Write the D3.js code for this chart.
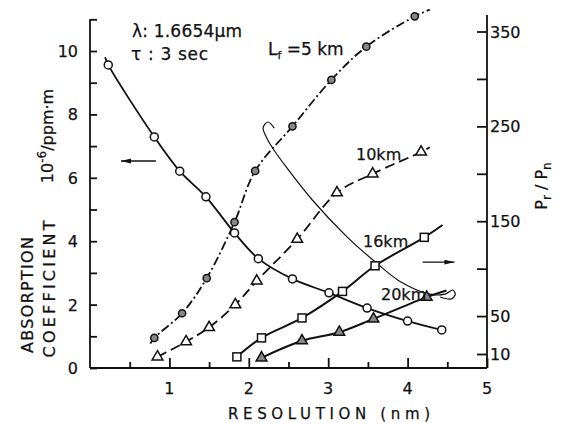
<!DOCTYPE html>
<html>
  <head>
    <meta charset="utf-8">
    <title>Absorption coefficient vs resolution</title>
    <style>
      body { margin: 0; background: #fff; }
      text { font-family: "DejaVu Sans", sans-serif; fill: #111; stroke: #111; stroke-width: 0.25px; }
      .domain, .tick line { stroke: #111; stroke-width: 1.8px; }
    </style>
    <script src="https://cdn.jsdelivr.net/npm/d3@7"></script>
  </head>
  <body>
    <script type="text/javascript">
      // absorption coefficient (left axis, 10^-6/ppm.m)
      var absX = [0.23, 0.81, 1.13, 1.46, 1.82, 2.12, 2.55, 3.01, 3.49, 4.00, 4.43];
      var absY = [9.56, 7.29, 6.21, 5.40, 4.26, 3.45, 2.81, 2.37, 1.89, 1.48, 1.20];
      var absStart = [0.19, 9.8];

      // Pr/Pn for each path length Lf (right axis)
      var km5X = [0.81, 1.16, 1.47, 1.82, 2.08, 2.55, 3.04, 3.48, 4.09];
      var km5Y = [27, 53, 90, 149, 203, 250, 299, 334, 366];
      var km5Ends = [[0.76, 21], [4.28, 373]];

      var km10X = [0.85, 1.21, 1.50, 1.83, 2.10, 2.61, 3.11, 3.56, 4.17];
      var km10Y = [7, 23, 38, 62, 87, 131, 180, 200, 223];
      var km10Ends = [null, [4.28, 228]];

      var km16X = [1.85, 2.16, 2.67, 3.18, 3.59, 4.21];
      var km16Y = [7, 27, 48, 76, 103, 133];
      var km16Ends = [null, [4.44, 146]];

      var km20X = [2.16, 2.67, 3.14, 3.57, 4.24];
      var km20Y = [6, 24, 33, 47, 70];
      var km20Ends = [null, [4.49, 77]];

      // thin bracket curve (left axis units)
      var linkX = [2.32, 2.24, 2.18, 2.22, 2.30, 2.48, 2.80, 3.24, 3.61, 3.90, 4.28, 4.47, 4.57, 4.60, 4.55, 4.41];
      var linkY = [7.57, 7.76, 7.57, 7.29, 6.94, 6.31, 5.30, 4.13, 3.31, 2.74, 2.33, 2.33, 2.46, 2.33, 2.18, 2.24];

      var xTicks = [0.5, 1, 1.5, 2, 2.5, 3, 3.5, 4, 4.5, 5];
      var xLabels = [1, 2, 3, 4, 5];
      var leftTicks = d3.range(0, 12);
      var leftLabels = [0, 2, 4, 6, 8, 10];
      var rightTicks = [10, 50, 100, 150, 200, 250, 300, 350];
      var rightLabels = [10, 50, 150, 250, 350];

      var width = 565, height = 424;
      var svg = d3.select("body").append("svg")
        .attr("width", width).attr("height", height);

      var x = d3.scaleLinear().domain([0, 5]).range([90, 487]);
      var yL = d3.scaleLinear().domain([0, 11]).range([368, 19.3]);
      var yR = d3.scaleLinear().domain([0, 350]).range([363.5, 31.5]);

      var defs = svg.append("defs");
      defs.append("marker").attr("id", "arrow")
        .attr("viewBox", "0 0 10 6").attr("refX", 10).attr("refY", 3)
        .attr("markerWidth", 10).attr("markerHeight", 6)
        .attr("markerUnits", "userSpaceOnUse").attr("orient", "auto")
        .append("path").attr("d", "M0,0.6L10,3L0,5.4z").attr("fill", "#111");

      // axes
      var xAxis = d3.axisBottom(x).tickValues(xTicks)
        .tickSize(-6).tickSizeOuter(0).tickFormat("");
      var gx = svg.append("g").attr("transform", "translate(0,368)").call(xAxis);
      gx.selectAll(".tick line").attr("y2", function(d) { return d % 1 === 0 ? -10 : -6; });
      gx.select(".domain").attr("d", "M" + x(0) + ",0H" + x(5));
      svg.selectAll(".xlab").data(xLabels).enter().append("text")
        .attr("x", function(d) { return x(d); }).attr("y", 394)
        .attr("text-anchor", "middle").attr("font-size", 16).text(function(d) { return d; });

      var gl = svg.append("g").attr("transform", "translate(" + x(0) + ",0)")
        .call(d3.axisLeft(yL).tickValues(leftTicks).tickSize(-7).tickSizeOuter(0).tickFormat(""));
      gl.select(".domain").attr("d", "M0," + yL(0) + "V" + yL(11));
      svg.selectAll(".ylab").data(leftLabels).enter().append("text")
        .attr("x", 78).attr("y", function(d) { return yL(d) + 6; })
        .attr("text-anchor", "end").attr("font-size", 16).text(function(d) { return d; });

      var gr = svg.append("g").attr("transform", "translate(" + x(5) + ",0)")
        .call(d3.axisRight(yR).tickValues(rightTicks).tickSize(-10).tickSizeOuter(0).tickFormat(""));
      gr.select(".domain").attr("d", "M0,368V15");
      svg.selectAll(".rlab").data(rightLabels).enter().append("text")
        .attr("x", 490).attr("y", function(d) { return yR(d) + 6; })
        .attr("font-size", 16).text(function(d) { return d; });

      // axis titles
      svg.append("text").attr("x", 329).attr("y", 419).attr("text-anchor", "middle")
        .attr("font-size", 15).attr("textLength", 202).attr("lengthAdjust", "spacing")
        .text("RESOLUTION (nm)");
      svg.append("text").attr("transform", "translate(33,295) rotate(-90)")
        .attr("text-anchor", "middle").attr("font-size", 16)
        .attr("textLength", 116).attr("lengthAdjust", "spacing").text("ABSORPTION");
      svg.append("text").attr("transform", "translate(55,289) rotate(-90)")
        .attr("text-anchor", "middle").attr("font-size", 16)
        .attr("textLength", 137).attr("lengthAdjust", "spacing").text("COEFFICIENT");
      var unit = svg.append("text").attr("transform", "translate(53,136) rotate(-90)")
        .attr("text-anchor", "middle").attr("font-size", 16);
      unit.append("tspan").text("10");
      unit.append("tspan").attr("dy", -7).attr("font-size", 12).text("-6");
      unit.append("tspan").attr("dy", 7).text("/ppm\u00b7m");
      var pr = svg.append("text").attr("transform", "translate(547,186) rotate(-90)")
        .attr("text-anchor", "middle").attr("font-size", 16);
      pr.append("tspan").text("P");
      pr.append("tspan").attr("dy", 4).attr("font-size", 12).text("r");
      pr.append("tspan").attr("dy", -4).text(" / P");
      pr.append("tspan").attr("dy", 4).attr("font-size", 12).text("n");

      // curves
      function pts(xs, ys) { return xs.map(function(d, i) { return [d, ys[i]]; }); }
      function withEnds(p, ends) {
        var out = p.slice();
        if (ends[0]) out.unshift(ends[0]);
        if (ends[1]) out.push(ends[1]);
        return out;
      }
      var lineL = d3.line().x(function(d) { return x(d[0]); }).y(function(d) { return yL(d[1]); })
        .curve(d3.curveCatmullRom.alpha(0.5));
      var lineR = d3.line().x(function(d) { return x(d[0]); }).y(function(d) { return yR(d[1]); })
        .curve(d3.curveCatmullRom.alpha(0.5));

      var absPts = pts(absX, absY);
      svg.append("path").attr("d", lineL([absStart].concat(absPts)))
        .attr("fill", "none").attr("stroke", "#111").attr("stroke-width", 1.8);

      var series = [
        {p: pts(km5X, km5Y), ends: km5Ends, dash: "9,3,2,3", w: 1.8},
        {p: pts(km10X, km10Y), ends: km10Ends, dash: "10,5", w: 1.8},
        {p: pts(km16X, km16Y), ends: km16Ends, dash: null, w: 2},
        {p: pts(km20X, km20Y), ends: km20Ends, dash: null, w: 2}
      ];
      series.forEach(function(s) {
        svg.append("path").attr("d", lineR(withEnds(s.p, s.ends)))
          .attr("fill", "none").attr("stroke", "#111").attr("stroke-width", s.w)
          .attr("stroke-dasharray", s.dash);
      });

      // thin connector curve
      svg.append("path").attr("d", lineL(pts(linkX, linkY)))
        .attr("fill", "none").attr("stroke", "#111").attr("stroke-width", 1.2);

      // markers
      svg.selectAll(".abs").data(absPts).enter().append("circle")
        .attr("cx", function(d) { return x(d[0]); }).attr("cy", function(d) { return yL(d[1]); })
        .attr("r", 4).attr("fill", "#fff").attr("stroke", "#111").attr("stroke-width", 1.5);
      svg.selectAll(".k5").data(series[0].p).enter().append("circle")
        .attr("cx", function(d) { return x(d[0]); }).attr("cy", function(d) { return yR(d[1]); })
        .attr("r", 3.6).attr("fill", "#888").attr("stroke", "#111").attr("stroke-width", 1.5);
      var tri = d3.symbol().type(d3.symbolTriangle).size(50);
      svg.selectAll(".k10").data(series[1].p).enter().append("path")
        .attr("d", tri).attr("transform", function(d) { return "translate(" + x(d[0]) + "," + yR(d[1]) + ")"; })
        .attr("fill", "#fff").attr("stroke", "#111").attr("stroke-width", 1.5);
      svg.selectAll(".k16").data(series[2].p).enter().append("rect")
        .attr("x", function(d) { return x(d[0]) - 4; }).attr("y", function(d) { return yR(d[1]) - 4; })
        .attr("width", 8).attr("height", 8)
        .attr("fill", "#fff").attr("stroke", "#111").attr("stroke-width", 1.5);
      svg.selectAll(".k20").data(series[3].p).enter().append("path")
        .attr("d", tri).attr("transform", function(d) { return "translate(" + x(d[0]) + "," + yR(d[1]) + ")"; })
        .attr("fill", "#888").attr("stroke", "#111").attr("stroke-width", 1.5);

      // arrows pointing to the axis each group belongs to
      svg.append("line").attr("x1", x(0.83)).attr("x2", x(0.39)).attr("y1", yL(6.53)).attr("y2", yL(6.53))
        .attr("stroke", "#111").attr("stroke-width", 1.3).attr("marker-end", "url(#arrow)");
      svg.append("line").attr("x1", x(4.19)).attr("x2", x(4.59)).attr("y1", yL(3.34)).attr("y2", yL(3.34))
        .attr("stroke", "#111").attr("stroke-width", 1.3).attr("marker-end", "url(#arrow)");

      // annotations
      svg.append("text").attr("x", 132).attr("y", 37).attr("font-size", 17)
        .attr("textLength", 110).attr("lengthAdjust", "spacing").text("\u03bb: 1.6654\u03bcm");
      svg.append("text").attr("x", 131).attr("y", 60).attr("font-size", 17)
        .attr("textLength", 77).attr("lengthAdjust", "spacing").text("\u03c4 : 3 sec");
      var lf = svg.append("text").attr("x", 268).attr("y", 55).attr("font-size", 17);
      lf.append("tspan").text("L");
      lf.append("tspan").attr("dy", 4).attr("font-size", 11).text("f");
      lf.append("tspan").attr("dy", -4).text(" =5 km");
      svg.append("text").attr("x", 356).attr("y", 160).attr("font-size", 16).text("10km");
      svg.append("text").attr("x", 363).attr("y", 247).attr("font-size", 16).text("16km");
      svg.append("text").attr("x", 381).attr("y", 300).attr("font-size", 16).text("20km");
    </script>
  </body>
</html>
